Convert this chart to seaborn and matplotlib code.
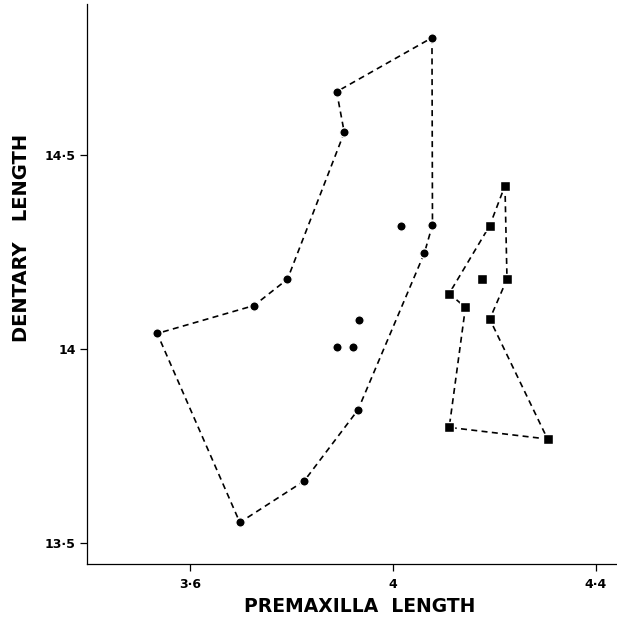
import matplotlib
matplotlib.use("Agg")
import matplotlib.pyplot as plt
import seaborn as sns
import pandas as pd

# ---- data ----
circle_x = [4.077, 4.078, 4.062, 3.931, 3.825, 3.698, 3.535, 3.726, 3.792, 3.904, 3.889,
            4.015, 3.934, 3.889, 3.922]
circle_y = [14.802, 14.320, 14.247, 13.843, 13.660, 13.553, 14.040, 14.112, 14.180, 14.558, 14.663,
            14.316, 14.074, 14.006, 14.006]
circle_hull = [0, 1, 2, 3, 4, 5, 6, 7, 8, 9, 10, 0]

square_x = [4.221, 4.225, 4.191, 4.305, 4.111, 4.143, 4.111, 4.191, 4.175]
square_y = [14.421, 14.180, 14.077, 13.768, 13.798, 14.107, 14.143, 14.318, 14.180]
square_hull = [0, 1, 2, 3, 4, 5, 6, 7, 0]

x_ticks = [3.6, 4.0, 4.4]
x_tick_labels = ["3·6", "4", "4·4"]
y_ticks = [13.5, 14.0, 14.5]
y_tick_labels = ["13·5", "14", "14·5"]
x_label = "PREMAXILLA  LENGTH"
y_label = "DENTARY   LENGTH"

sns.set_style("ticks")
plt.rcParams["font.family"] = ["DejaVu Sans"]
plt.rcParams["text.color"] = "black"

fig = plt.figure(figsize=(6.17, 6.18), dpi=100)
ax = fig.add_axes([87 / 617, 54 / 618, 530 / 617, 560 / 618])

circ = pd.DataFrame({"x": circle_x, "y": circle_y})
sq = pd.DataFrame({"x": square_x, "y": square_y})
circ_h = circ.iloc[circle_hull].reset_index(drop=True)
sq_h = sq.iloc[square_hull].reset_index(drop=True)

for h in (circ_h, sq_h):
    sns.lineplot(data=h, x="x", y="y", sort=False, estimator=None, ax=ax,
                 color="black", linewidth=1.2, linestyle=(0, (3.6, 2.6)), zorder=2)

sns.scatterplot(data=circ, x="x", y="y", marker="o", s=46, color="black",
                edgecolor="white", linewidth=1.0, ax=ax, zorder=3)
sns.scatterplot(data=sq, x="x", y="y", marker="s", s=42, color="black",
                edgecolor="white", linewidth=1.0, ax=ax, zorder=3)

ax.set_xlim(3.3965, 4.442)
ax.set_ylim(13.446, 14.889)
ax.set_xticks(x_ticks)
ax.set_xticklabels(x_tick_labels, fontsize=9, fontweight="bold", color="black")
ax.set_yticks(y_ticks)
ax.set_yticklabels(y_tick_labels, fontsize=9, fontweight="bold", color="black")
ax.tick_params(direction="out", length=5, width=0.9, pad=3, colors="black")
ax.tick_params(axis="x", pad=5)

sns.despine(ax=ax)
for s in ("left", "bottom"):
    ax.spines[s].set_linewidth(0.9)
    ax.spines[s].set_color("black")

ax.set_xlabel("")
ax.set_ylabel("")
fig.text(360 / 617, 1 - 606 / 618, x_label, ha="center", va="center",
         fontsize=13.5, fontweight="bold", color="black")
fig.text(22 / 617, 1 - 238 / 618, y_label, ha="center", va="center",
         rotation=90, fontsize=14, fontweight="bold", color="black")

fig.savefig("out.png", dpi=100)
